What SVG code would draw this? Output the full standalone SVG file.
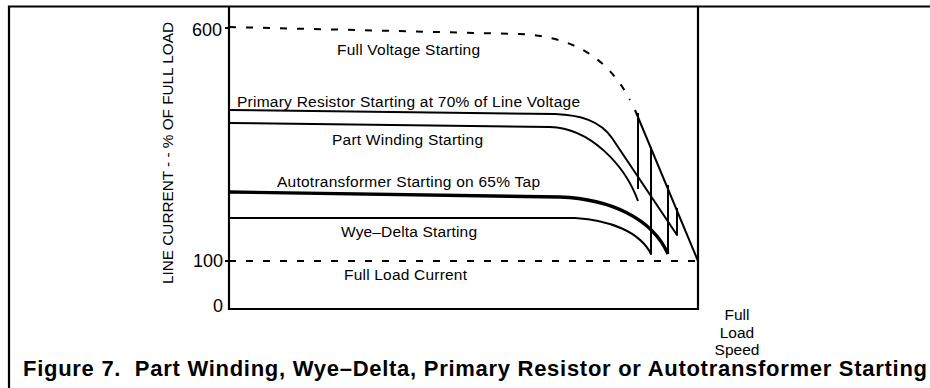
<svg xmlns="http://www.w3.org/2000/svg" width="930" height="388" viewBox="0 0 930 388">
  <style>
    .frame { fill: none; stroke: #000; stroke-width: 2.2; }
    .curve { fill: none; stroke: #000; stroke-width: 2; stroke-linejoin: round; }
    .thick { fill: none; stroke: #000; stroke-width: 3.4; stroke-linejoin: round; }
    .dash { fill: none; stroke: #000; stroke-width: 2; stroke-dasharray: 7 10; }
    .lbl { font-family: "Liberation Sans", Arial, sans-serif; font-size: 15.5px; fill: #000; }
    .tick { font-family: "Liberation Sans", Arial, sans-serif; font-size: 18px; fill: #000; text-anchor: end; }
    .cap { font-family: "Liberation Sans", Arial, sans-serif; font-size: 22px; font-weight: bold; fill: #000; white-space: pre; }
  </style>
  <rect width="930" height="388" fill="#fff"/>

  <!-- outer frame: left and top rules -->
  <g id="frame">
    <path class="frame" d="M9,388 V6.5 H930"/>
  </g>

  <!-- plot area -->
  <g id="plot-box">
    <path class="frame" d="M229,6.5 V309 H698 V6.5"/>
    <path class="curve" d="M225,28 H229 M225,261 H229"/>
  </g>

  <!-- axis labels -->
  <g id="axis-labels">
    <text class="tick" x="222" y="36">600</text>
    <text class="tick" x="223" y="267">100</text>
    <text class="tick" x="223" y="312">0</text>
    <text class="lbl" transform="translate(173,153) rotate(-90)" text-anchor="middle" font-size="17.5" textLength="262" lengthAdjust="spacingAndGlyphs">LINE CURRENT - - % OF FULL LOAD</text>
    <text class="lbl" x="737" y="320" text-anchor="middle">Full</text>
    <text class="lbl" x="737" y="338" text-anchor="middle">Load</text>
    <text class="lbl" x="737" y="355" text-anchor="middle">Speed</text>
  </g>

  <!-- starting current curves -->
  <g id="connectors">
    <!-- full voltage -->
    <path class="dash" d="M229,27 L520,34 C565,36 605,52 630,100"/>
    <path class="curve" d="M635,110 L698,261"/>
    <!-- full load current -->
    <path class="dash" d="M229,261 H698"/>
    <!-- primary resistor -->
    <path class="curve" d="M229,110 L555,114 C580,115 600,120.5 612,138 L677,235 V208"/>
    <!-- part winding -->
    <path class="curve" d="M229,123 L550,127 C590,128 625,165 638,201"/>
    <path class="curve" d="M638,113 V189"/>
    <!-- autotransformer -->
    <path class="thick" d="M229,192 L560,197 C610,199 652,218 668,254"/>
    <path class="curve" stroke-width="2.6" d="M668,254 V185"/>
    <!-- wye-delta -->
    <path class="curve" d="M229,218 L575,218 C610,220 640,232 651,254 V147"/>
  </g>

  <!-- curve labels -->
  <g id="curve-labels">
    <text class="lbl" x="337" y="55" textLength="143">Full Voltage Starting</text>
    <text class="lbl" x="237" y="107" textLength="343">Primary Resistor Starting at 70% of Line Voltage</text>
    <text class="lbl" x="332" y="145" textLength="151">Part Winding Starting</text>
    <text class="lbl" x="277" y="187" textLength="263">Autotransformer Starting on 65% Tap</text>
    <text class="lbl" x="341" y="237" textLength="136">Wye–Delta Starting</text>
    <text class="lbl" x="344" y="280" textLength="123">Full Load Current</text>
  </g>

  <!-- caption -->
  <g id="caption">
    <text class="cap" x="23" y="376" textLength="904">Figure 7.  Part Winding, Wye–Delta, Primary Resistor or Autotransformer Starting</text>
  </g>
</svg>
